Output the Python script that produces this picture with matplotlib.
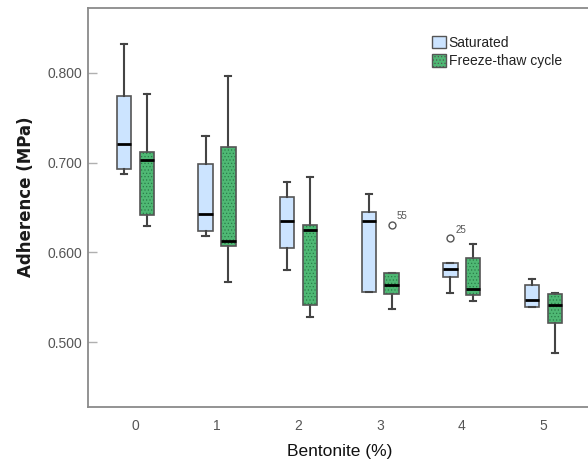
import matplotlib
matplotlib.use('Agg')
import matplotlib.pyplot as plt
import matplotlib.patches as mpatches
from matplotlib.patches import PathPatch

plt.rcParams['font.family'] = ['Liberation Sans', 'DejaVu Sans']
plt.rcParams['hatch.linewidth'] = 0.5

categories = ['0', '1', '2', '3', '4', '5']
groups = ['Saturated', 'Freeze-thaw cycle']

sat_whislo = [0.687, 0.618, 0.581, 0.556, 0.555, 0.539]
sat_q1 = [0.693, 0.624, 0.605, 0.556, 0.573, 0.539]
sat_med = [0.721, 0.643, 0.635, 0.635, 0.582, 0.547]
sat_q3 = [0.774, 0.699, 0.662, 0.645, 0.588, 0.5635]
sat_whishi = [0.832, 0.730, 0.678, 0.665, 0.588, 0.5705]
sat_fliers = [[], [], [], [], [0.616], []]
sat_flier_ids = [[], [], [], [], ['25'], []]

ft_whislo = [0.629, 0.567, 0.528, 0.5375, 0.546, 0.488]
ft_q1 = [0.642, 0.607, 0.542, 0.5535, 0.553, 0.522]
ft_med = [0.7026, 0.6124, 0.6247, 0.5642, 0.5591, 0.5416]
ft_q3 = [0.7115, 0.717, 0.631, 0.5775, 0.594, 0.5535]
ft_whishi = [0.776, 0.796, 0.6836, 0.5775, 0.6094, 0.5546]
ft_fliers = [[], [], [], [0.631], [], []]
ft_flier_ids = [[], [], [], ['55'], [], []]

yticks = [0.5, 0.6, 0.7, 0.8]
ytick_labels = ['0.500', '0.600', '0.700', '0.800']

blue = '#cce4ff'
green = '#4fb874'
green_dots = '#2a7d48'
edge = '#555555'

fig = plt.figure(figsize=(5.88, 4.66), dpi=100)
ax = fig.add_axes([88 / 588, 59 / 466, 502.7 / 588, 399 / 466])


def stats(wl, q1, med, q3, wh, fl):
    return [dict(whislo=a, q1=b, med=c, q3=d, whishi=e, fliers=f)
            for a, b, c, d, e, f in zip(wl, q1, med, q3, wh, fl)]


x = list(range(len(categories)))
off = 0.14
bw = 0.176

common = dict(widths=bw, patch_artist=True, showfliers=True, capwidths=0.075,
              whiskerprops=dict(color='#444444', linewidth=1.5),
              capprops=dict(color='#444444', linewidth=1.5),
              medianprops=dict(color='black', linewidth=2.0),
              flierprops=dict(marker='o', markersize=5, markerfacecolor='none',
                              markeredgecolor='#555555', markeredgewidth=1.0))

b1 = ax.bxp(stats(sat_whislo, sat_q1, sat_med, sat_q3, sat_whishi, sat_fliers),
            positions=[p - off for p in x],
            boxprops=dict(facecolor=blue, edgecolor=edge, linewidth=1.2), **common)
b2 = ax.bxp(stats(ft_whislo, ft_q1, ft_med, ft_q3, ft_whishi, ft_fliers),
            positions=[p + off for p in x],
            boxprops=dict(facecolor=green, edgecolor=green_dots, linewidth=0, hatch='.....'),
            **common)
for bx in b2['boxes']:
    ax.add_patch(PathPatch(bx.get_path(), transform=bx.get_transform(), fill=False,
                           edgecolor=edge, linewidth=1.2, zorder=bx.get_zorder() + 0.01))
for ln in b2['medians'] + b1['medians']:
    ln.set_zorder(3)

for pos, fl, ids in zip([p - off for p in x], sat_fliers, sat_flier_ids):
    for v, t in zip(fl, ids):
        ax.annotate(t, xy=(pos, v), xytext=(3.5, 6), textcoords='offset points',
                    fontsize=7, color='#555555', va='center', ha='left')
for pos, fl, ids in zip([p + off for p in x], ft_fliers, ft_flier_ids):
    for v, t in zip(fl, ids):
        ax.annotate(t, xy=(pos, v), xytext=(3.5, 6), textcoords='offset points',
                    fontsize=7, color='#555555', va='center', ha='left')

ax.set_xlim(-0.58, 5.58)
ax.set_ylim(0.4281, 0.872)
ax.set_xticks(x)
ax.set_xticklabels(categories)
ax.set_yticks(yticks)
ax.set_yticklabels(ytick_labels)
ax.tick_params(axis='x', length=0, pad=8.5, labelsize=10, labelcolor='#555555')
ax.tick_params(axis='y', direction='in', length=6.5, width=1, color='#b0b0b0',
               pad=4.3, labelsize=10, labelcolor='#555555')

for s in ['left', 'top', 'bottom']:
    ax.spines[s].set_color('#8a8a8a')
    ax.spines[s].set_linewidth(1.3)
ax.spines['right'].set_visible(False)

ax.set_xlabel('Bentonite (%)', fontsize=12.5, color='#111111')
ax.xaxis.set_label_coords(0.5, -0.093)
ax.set_ylabel('Adherence (MPa)', fontsize=12, fontweight='bold', color='#1a1a1a',
              family='DejaVu Sans')
ax.yaxis.set_label_coords(-0.106, 0.526)

handles = [mpatches.Patch(facecolor=blue, edgecolor=edge, linewidth=1.0),
           mpatches.Patch(facecolor=green, edgecolor=edge, linewidth=1.0, hatch='.....')]
leg = ax.legend(handles, groups, loc='upper left', bbox_to_anchor=(0.684, 0.93),
                frameon=False, fontsize=10, handlelength=1.0, handleheight=1.0,
                handletextpad=0.2, labelspacing=0.3, borderpad=0, borderaxespad=0)
for t in leg.get_texts():
    t.set_color('#222222')

fig.savefig('out.png', dpi=100)
